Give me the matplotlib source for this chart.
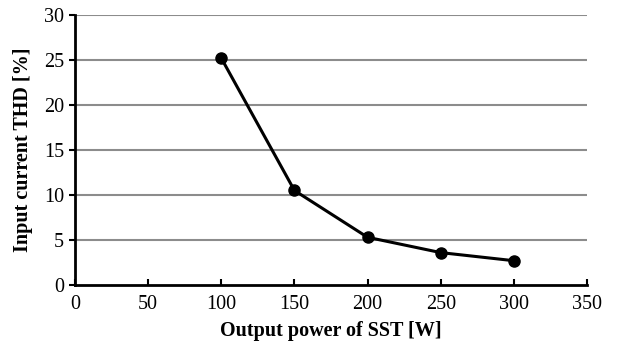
import matplotlib
matplotlib.use('Agg')
import matplotlib.pyplot as plt

# dados
potencia = [100, 150, 200, 250, 300]
thd = [25.2, 10.5, 5.3, 3.6, 2.7]
x_ticks = [0, 50, 100, 150, 200, 250, 300, 350]
y_ticks = [0, 5, 10, 15, 20, 25, 30]

plt.rcParams['font.family'] = ['Liberation Serif', 'DejaVu Serif']

fig = plt.figure(figsize=(6.21, 3.48), dpi=100)
ax = fig.add_axes([0.1208, 0.181, 0.8245, 0.776])

# linhas de grade horizontais
for y in y_ticks[1:]:
    ax.axhline(y, color='#8c8c8c', linewidth=1.5, zorder=1)

ax.plot(potencia, thd, color='black', linewidth=2.2, marker='o',
        markersize=8, zorder=3, clip_on=False)

ax.set_xlim(0, 350)
ax.set_ylim(0, 30)
ax.set_xticks(x_ticks)
ax.set_yticks(y_ticks)
ax.tick_params(axis='x', direction='in', length=4, width=1.5, labelsize=14.5, pad=7)
ax.tick_params(axis='y', direction='out', length=4, width=1.5, labelsize=14.5, pad=4)

for lado in ['top', 'right']:
    ax.spines[lado].set_visible(False)
for lado in ['left', 'bottom']:
    ax.spines[lado].set_linewidth(2)

ax.set_xlabel('Output power of SST [W]', fontsize=14.5, fontweight='bold', labelpad=5)
ax.set_ylabel('Input current THD [%]', fontsize=14.5, fontweight='bold', labelpad=8)

fig.savefig('out.png', dpi=100)
